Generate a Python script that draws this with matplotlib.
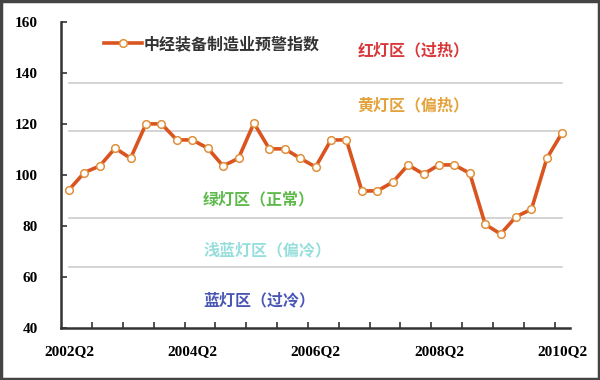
import matplotlib
matplotlib.use("Agg")
import matplotlib.pyplot as plt
import numpy as np

plt.rcParams['font.family'] = ['Noto Sans CJK SC', 'DejaVu Sans']

# 横轴标签（每8个季度一个，从2002Q2开始）
tick_labels = ["2002Q2", "2004Q2", "2006Q2", "2008Q2", "2010Q2"]
# 中经装备制造业预警指数，2002Q2 - 2010Q2
index_values = [94, 100.8, 103.4, 110.4, 106.4, 119.9, 119.9, 113.6, 113.6, 110.4,
                103.4, 106.4, 120.2, 110.1, 110.1, 106.4, 103, 113.6, 113.6, 93.6,
                93.6, 97, 103.8, 100.2, 103.8, 103.8, 100.5, 80.5, 76.7, 83.5,
                86.4, 106.4, 116.5]
# 灯区分界线
zone_bounds = [136, 117, 83, 63.7]
zone_names = ["红灯区（过热）", "黄灯区（偏热）", "绿灯区（正常）", "浅蓝灯区（偏冷）", "蓝灯区（过冷）"]
zone_colors = ["#D8383A", "#E3A23A", "#5DB94A", "#96DEDC", "#4A56B4"]
series_name = "中经装备制造业预警指数"

fig = plt.figure(figsize=(6, 3.8), dpi=100)
ax = fig.add_axes([0.102, 0.138, 0.848, 0.805])

x = np.arange(len(index_values))

# 分界线
for b in zone_bounds:
    ax.plot([x[0], x[-1]], [b, b], color="#CDCDCD", lw=1.2, zorder=1)

ax.plot(x, index_values, color="#DA5420", lw=2.6, marker="o", ms=5.5,
        mfc="white", mec="#E0903A", mew=1.1, label=series_name, zorder=3)

ax.set_xlim(-0.5, len(index_values) - 0.5)
ax.set_ylim(40, 160)
ax.set_yticks(range(40, 161, 20))
ax.set_yticklabels([str(v) for v in range(40, 161, 20)],
                   family="Liberation Serif", fontweight="bold", fontsize=11)

# 主刻度标签（每两年一个）
ax.set_xticks(x[::8])
ax.set_xticklabels(tick_labels, family="Liberation Serif", fontweight="bold", fontsize=11)
ax.tick_params(axis="x", which="major", length=0, pad=13)
ax.set_xticks(np.arange(1.5, len(index_values) - 1, 2), minor=True)
ax.tick_params(axis="x", which="minor", direction="in", length=4, width=1.2, color="#333333")
ax.tick_params(axis="y", direction="in", length=4, width=1.2, color="#333333", pad=17)

for s in ["top", "right"]:
    ax.spines[s].set_visible(False)
for s in ["left", "bottom"]:
    ax.spines[s].set_linewidth(1.8)
    ax.spines[s].set_color("#333333")

# 灯区文字
label_pos = [(0.582, 0.905), (0.582, 0.725), (0.279, 0.418), (0.279, 0.254), (0.279, 0.09)]
for name, c, (tx, ty) in zip(zone_names, zone_colors, label_pos):
    ax.text(tx, ty, name, transform=ax.transAxes, color=c, fontsize=11.5,
            fontweight="bold", va="center", ha="left")

leg = ax.legend(loc="upper left", bbox_to_anchor=(0.055, 1.0), frameon=False,
                handlelength=2.4, handletextpad=0.1,
                prop={"size": 11.5, "weight": "bold"})
for t in leg.get_texts():
    t.set_color("#333333")

fig.patches.append(plt.Rectangle((0.002, 0.003), 0.996, 0.994, transform=fig.transFigure,
                                 fill=False, edgecolor="#444444", lw=2.5))

fig.savefig("out.png", dpi=100)
